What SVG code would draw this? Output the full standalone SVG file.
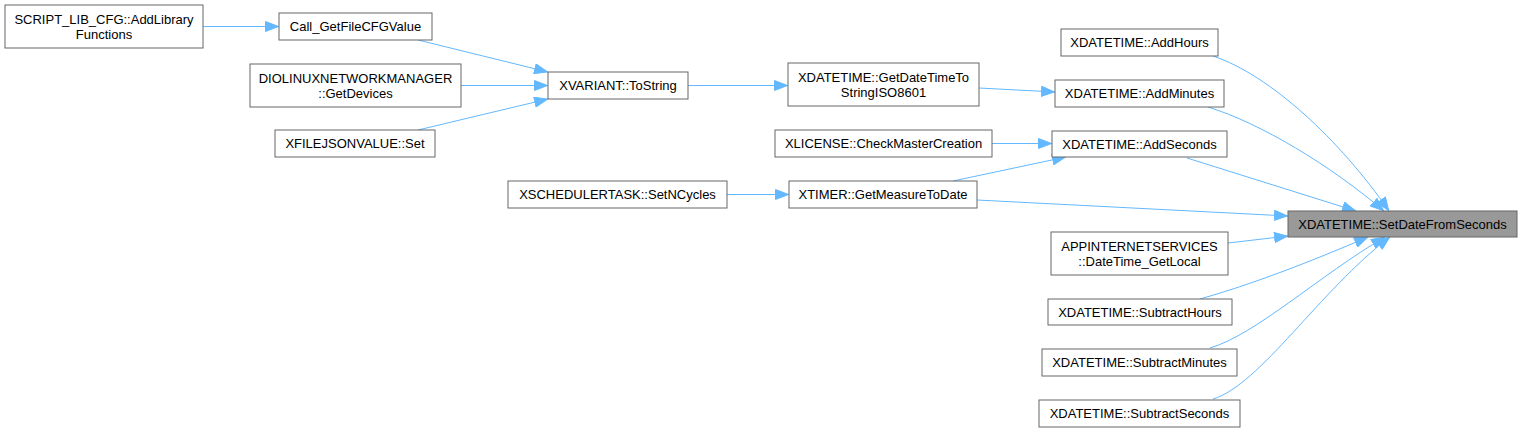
<svg xmlns="http://www.w3.org/2000/svg" width="1522" height="432" viewBox="0 0 1522 432">
<style>
.n rect{fill:#ffffff;stroke:#666666;stroke-width:1}
.n.hl rect{fill:#999999}
.n text{font-family:"Liberation Sans",Arial,sans-serif;font-size:13px;fill:#000000;text-anchor:middle}
.e path{fill:none;stroke:#63b8ff;stroke-width:1;marker-end:url(#ah)}
</style>
<defs>
<marker id="ah" viewBox="0 0 14 11" refX="14" refY="5.5" markerWidth="14" markerHeight="11" markerUnits="userSpaceOnUse" orient="auto">
<path d="M0.5,0.5 L13.5,5.5 L0.5,10.5 z" fill="#63b8ff" stroke="#63b8ff" stroke-width="1"/>
</marker>
</defs>
<rect width="1522" height="432" fill="#ffffff"/>
<g id="edges" class="e">
<path d="M203,26.5 L279,26.5"/>
<path d="M418,40 L548,72"/>
<path d="M461,85.5 L548,85.5"/>
<path d="M418,130 L548,99"/>
<path d="M688,85.5 L788,85.5"/>
<path d="M979,88 L1055,92"/>
<path d="M992,143.5 L1052,143.5"/>
<path d="M953,181 L1066,157"/>
<path d="M727,194.5 L789,194.5"/>
<path d="M977,200 L1288,216"/>
<path d="M1213,56 C1270,75 1340,140 1389,211"/>
<path d="M1208,107 C1260,123 1330,165 1384,211"/>
<path d="M1187,158 L1356,211"/>
<path d="M1228,243 L1288,236"/>
<path d="M1200,299 C1250,285 1310,262 1368,237"/>
<path d="M1210,348 C1255,335 1320,275 1385,237"/>
<path d="M1213,399 C1260,385 1320,290 1390,237"/>
</g>
<g id="n_script" class="n"><rect x="5" y="5" width="198" height="43"/><text x="104" y="24">SCRIPT_LIB_CFG::AddLibrary</text><text x="104" y="39">Functions</text></g>
<g id="n_call" class="n"><rect x="279" y="13" width="153" height="27"/><text x="355.5" y="31">Call_GetFileCFGValue</text></g>
<g id="n_diolinux" class="n"><rect x="250" y="64" width="211" height="43"/><text x="355.5" y="83">DIOLINUXNETWORKMANAGER</text><text x="355.5" y="98">::GetDevices</text></g>
<g id="n_xfilejson" class="n"><rect x="275" y="130" width="160" height="27"/><text x="355" y="148">XFILEJSONVALUE::Set</text></g>
<g id="n_xvariant" class="n"><rect x="548" y="72" width="140" height="27"/><text x="618" y="90">XVARIANT::ToString</text></g>
<g id="n_getdatetime" class="n"><rect x="788" y="63" width="191" height="43"/><text x="883.5" y="82">XDATETIME::GetDateTimeTo</text><text x="883.5" y="97">StringISO8601</text></g>
<g id="n_checkmaster" class="n"><rect x="775" y="130" width="217" height="27"/><text x="883.5" y="148">XLICENSE::CheckMasterCreation</text></g>
<g id="n_setncycles" class="n"><rect x="508" y="181" width="219" height="27"/><text x="617.5" y="199">XSCHEDULERTASK::SetNCycles</text></g>
<g id="n_getmeasure" class="n"><rect x="789" y="181" width="188" height="27"/><text x="883" y="199">XTIMER::GetMeasureToDate</text></g>
<g id="n_addhours" class="n"><rect x="1061" y="29" width="157" height="27"/><text x="1139.5" y="47">XDATETIME::AddHours</text></g>
<g id="n_addminutes" class="n"><rect x="1055" y="80" width="169" height="27"/><text x="1139.5" y="98">XDATETIME::AddMinutes</text></g>
<g id="n_addseconds" class="n"><rect x="1052" y="131" width="175" height="26"/><text x="1139.5" y="148.5">XDATETIME::AddSeconds</text></g>
<g id="n_setdate" class="n hl"><rect x="1288" y="211" width="229" height="26"/><text x="1402.5" y="228.5">XDATETIME::SetDateFromSeconds</text></g>
<g id="n_appinternet" class="n"><rect x="1051" y="232" width="177" height="43"/><text x="1139.5" y="251">APPINTERNETSERVICES</text><text x="1139.5" y="266">::DateTime_GetLocal</text></g>
<g id="n_subhours" class="n"><rect x="1048" y="299" width="184" height="26"/><text x="1140" y="316.5">XDATETIME::SubtractHours</text></g>
<g id="n_subminutes" class="n"><rect x="1042" y="349" width="195" height="27"/><text x="1139.5" y="367">XDATETIME::SubtractMinutes</text></g>
<g id="n_subseconds" class="n"><rect x="1039" y="400" width="201" height="27"/><text x="1139.5" y="418">XDATETIME::SubtractSeconds</text></g>
</svg>
